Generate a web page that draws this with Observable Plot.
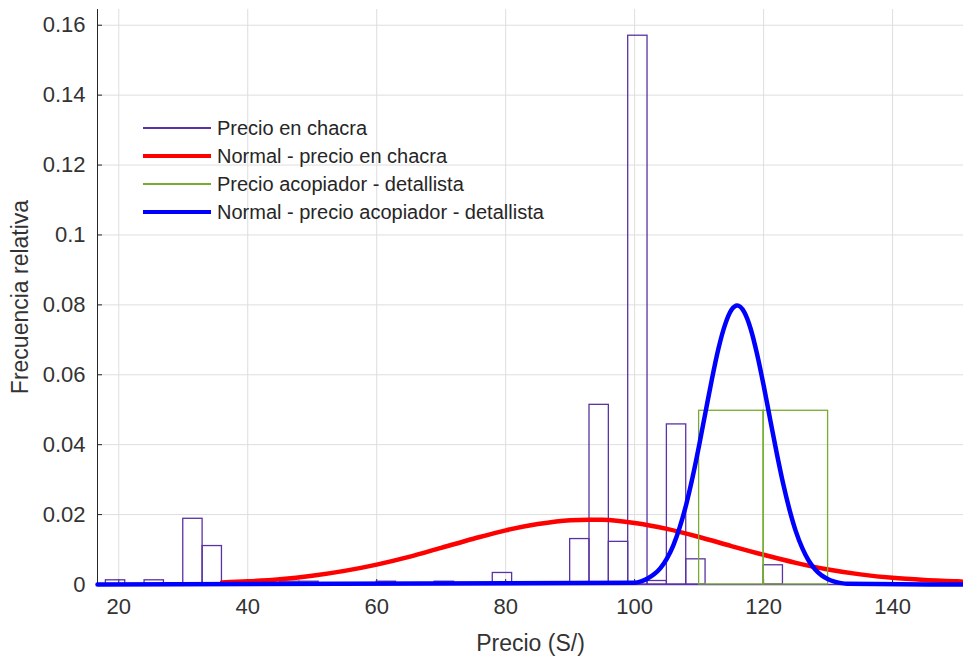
<!DOCTYPE html>
<html><head><meta charset="utf-8">
<script src="https://cdn.jsdelivr.net/npm/d3@7"></script>
<script src="https://cdn.jsdelivr.net/npm/@observablehq/plot@0.6"></script>
<style>
body{margin:0;background:#fff;font-family:"Liberation Sans",Arial,sans-serif;}
#wrap{position:relative;width:963px;height:656px;overflow:hidden;}
#legend{position:absolute;left:143px;top:114px;}
.row{display:flex;align-items:center;height:28px;}
.sw{width:68px;margin-right:6px;}
.lab{font-size:20px;color:#262626;white-space:nowrap;}
</style></head><body><div id="wrap"><div id="legend"></div></div>
<script>
// ---- data ----
const xTicks = [20, 40, 60, 80, 100, 120, 140];
const yTicks = [0, 0.02, 0.04, 0.06, 0.08, 0.1, 0.12, 0.14, 0.16];

// Histogram "Precio en chacra": bin starts (width 3), relative frequency
const chacraBinWidth = 3;
const chacraRange = [18, 132];
const chacraBinStart = [18, 24, 30, 33, 45, 48, 60, 69, 78, 90, 93, 96, 99, 102, 105, 108, 120];
const chacraFreq     = [0.0012, 0.0012, 0.0188, 0.0110, 0.0008, 0.0008, 0.0008, 0.0008, 0.0033, 0.0130, 0.0514, 0.0122, 0.1570, 0.0010, 0.0458, 0.0072, 0.0055];

// Histogram "Precio acopiador - detallista": bin starts (width 10)
const acopBinWidth = 10;
const acopBinStart = [110, 120];
const acopFreq     = [0.0497, 0.0497];

// Normal fit - precio en chacra
const redX = [36, 40, 45, 50, 55, 60, 65, 70, 75, 80, 85, 90, 93, 95, 100, 105, 110, 115, 120, 125, 130, 135, 140, 145, 150, 151];
const redY = [0.0006, 0.0009, 0.0015, 0.0025, 0.0039, 0.0057, 0.0079, 0.0105, 0.0131, 0.0155, 0.0173, 0.0184, 0.01855, 0.0185, 0.0176, 0.0159, 0.0136, 0.0110, 0.0085, 0.0062, 0.0043, 0.0029, 0.0019, 0.0013, 0.0009, 0.0008];

// Normal fit - precio acopiador - detallista
const blueX = [16.7, 100, 101, 102, 103, 104, 105, 106, 107, 108, 109, 110, 111, 112, 113, 114, 115, 115.9, 117, 118, 119, 120, 121, 122, 123, 124, 125, 126, 127, 128, 129, 130, 131, 132, 133, 151];
const blueY = [0, 0.0005, 0.0009, 0.0017, 0.0029, 0.0047, 0.0074, 0.0112, 0.0164, 0.0229, 0.0308, 0.0398, 0.0494, 0.0589, 0.0675, 0.0742, 0.0785, 0.0798, 0.0779, 0.0731, 0.0658, 0.0570, 0.0474, 0.0379, 0.0291, 0.0215, 0.0152, 0.0104, 0.0068, 0.0043, 0.0026, 0.0015, 0.0008, 0.0004, 0.0002, 0];

const seriesNames = ["Precio en chacra", "Normal - precio en chacra", "Precio acopiador - detallista", "Normal - precio acopiador - detallista"];
const seriesColors = ["#5a32a3", "#ff0000", "#77ac30", "#0000ff"];
const seriesWidths = [1.3, 4.5, 1.3, 4.5];

// ---- build tables ----
const chacra = chacraBinStart.map((s, i) => ({x1: s, x2: s + chacraBinWidth, f: chacraFreq[i]}));
const acop = acopBinStart.map((s, i) => ({x1: s, x2: s + acopBinWidth, f: acopFreq[i]}));
const red = redX.map((x, i) => ({x, y: redY[i]}));
const blue = blueX.map((x, i) => ({x, y: blueY[i]}));

const W = 963, H = 656, mL = 97, mR = 0, mT = 9, mB = 72;
const plotW = W - mL - mR, plotH = H - mT - mB;
const textColor = "#262626";
const gridColor = "#dedede";

const chart = Plot.plot({
  width: W, height: H,
  marginLeft: mL, marginRight: mR, marginTop: mT, marginBottom: mB,
  style: {fontFamily: "'Liberation Sans', Arial, sans-serif", background: "#fff", color: textColor},
  x: {domain: [16.7, 151]},
  y: {domain: [0, 0.1645]},
  marks: [
    Plot.ruleX(xTicks, {x: d => d, stroke: gridColor, strokeWidth: 1}),
    Plot.ruleY(yTicks, {y: d => d, stroke: gridColor, strokeWidth: 1}),
    Plot.tickX(xTicks, {x: d => d, stroke: textColor, insetTop: plotH - 5}),
    Plot.tickY(yTicks, {y: d => d, stroke: textColor, insetRight: plotW - 5}),
    Plot.ruleX([16.7], {x: d => d, stroke: textColor, strokeWidth: 1}),
    Plot.ruleY([0], {y: d => d, stroke: textColor, strokeWidth: 1}),
    Plot.axisX(xTicks, {tickSize: 0, tickPadding: 14, fontSize: 22, fill: "#333", tickFormat: d => String(d),
      label: "Precio (S/)", labelArrow: "none", labelAnchor: "center", labelOffset: 66}),
    Plot.axisY(yTicks, {tickSize: 0, tickPadding: 12, fontSize: 22, fill: "#333", tickFormat: d => String(d),
      label: "Frecuencia relativa", labelArrow: "none", labelAnchor: "center", labelOffset: 86}),
    // histogram chacra
    Plot.rectY(chacra, {x1: "x1", x2: "x2", y: "f", fill: "none", stroke: seriesColors[0], strokeWidth: seriesWidths[0]}),
    Plot.ruleY([0], {x1: chacraRange[0], x2: chacraRange[1], stroke: seriesColors[0], strokeWidth: seriesWidths[0]}),
    // red normal
    Plot.line(red, {x: "x", y: "y", stroke: seriesColors[1], strokeWidth: seriesWidths[1], curve: "monotone-x"}),
    // green histogram
    Plot.rectY(acop, {x1: "x1", x2: "x2", y: "f", fill: "none", stroke: seriesColors[2], strokeWidth: seriesWidths[2]}),
    // blue normal
    Plot.line(blue, {x: "x", y: "y", stroke: seriesColors[3], strokeWidth: seriesWidths[3], curve: "monotone-x"})
  ]
});
// axis label font size
chart.querySelectorAll("g[aria-label='x-axis label'] text, g[aria-label='y-axis label'] text").forEach(t => {
  t.setAttribute("font-size", "23");
});
document.getElementById("wrap").prepend(chart);

// legend
const lg = document.getElementById("legend");
seriesNames.forEach((n, i) => {
  const row = document.createElement("div"); row.className = "row";
  const sw = document.createElement("div"); sw.className = "sw";
  sw.style.height = seriesWidths[i] + "px"; sw.style.background = seriesColors[i];
  const lb = document.createElement("span"); lb.className = "lab"; lb.textContent = n;
  row.append(sw, lb); lg.append(row);
});
</script></body></html>
